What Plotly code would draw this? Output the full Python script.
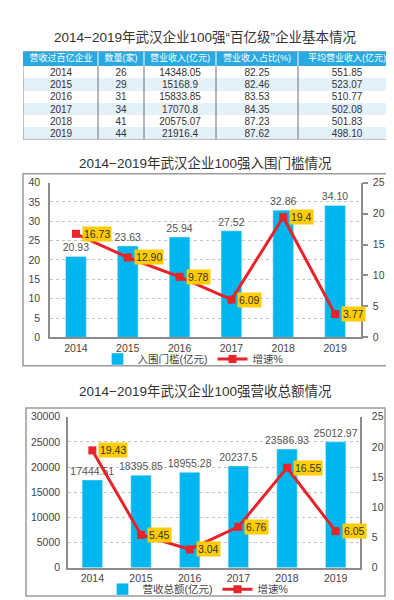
import plotly.graph_objects as go

W, H = 394, 600

# ---------------- data ----------------
tbl_header = ["营收过百亿企业", "数量(家)", "营业收入(亿元)", "营业收入占比(%)", "平均营业收入(亿元)"]
tbl_years = ["2014", "2015", "2016", "2017", "2018", "2019"]
tbl_count = ["26", "29", "31", "34", "41", "44"]
tbl_revenue = ["14348.05", "15168.9", "15833.85", "17070.8", "20575.07", "21916.4"]
tbl_share = ["82.25", "82.46", "83.53", "84.35", "87.23", "87.62"]
tbl_avg = ["551.85", "523.07", "510.77", "502.08", "501.83", "498.10"]

years = ["2014", "2015", "2016", "2017", "2018", "2019"]
threshold = [20.93, 23.63, 25.94, 27.52, 32.86, 34.10]
threshold_labels = ["20.93", "23.63", "25.94", "27.52", "32.86", "34.10"]
threshold_growth = [16.73, 12.90, 9.78, 6.09, 19.4, 3.77]
threshold_growth_labels = ["16.73", "12.90", "9.78", "6.09", "19.4", "3.77"]

revenue = [17444.51, 18395.85, 18955.28, 20237.5, 23586.93, 25012.97]
revenue_labels = ["17444.51", "18395.85", "18955.28", "20237.5", "23586.93", "25012.97"]
revenue_growth = [19.43, 5.45, 3.04, 6.76, 16.55, 6.05]
revenue_growth_labels = ["19.43", "5.45", "3.04", "6.76", "16.55", "6.05"]

titles = ["2014−2019年武汉企业100强“百亿级”企业基本情况",
          "2014−2019年武汉企业100强入围门槛情况",
          "2014−2019年武汉企业100强营收总额情况"]

# ---------------- style ----------------
FONT = "Liberation Sans, Noto Sans CJK SC, sans-serif"
BLUE = "#00b6ee"
RED = "#e8232a"
YELLOW = "#ffcc00"
TXT = "#444444"
FRAME = "#9a9a9a"
AXIS = "#8c8c8c"
HEAD_BLUE = "#29a9e1"
ROW_BLUE = "#e3f1fb"


def px(x):
    return x / W


def py(y):
    return 1 - y / H


fig = go.Figure()

# ---------------- table (drawn as heatmap bricks with text) ----------------
TBL_L, TBL_R, TBL_TOP = 15, 387, 38
col_widths = [75, 46, 72, 82, 97]
HEAD_H, ROW_H = 15, 12.5
col_edges = [0]
for w in col_widths:
    col_edges.append(col_edges[-1] + w)
n_rows = len(tbl_years)
row_edges = [HEAD_H + ROW_H * k for k in range(n_rows + 1)]
tbl_h = row_edges[-1]

tbl_cols = [tbl_years, tbl_count, tbl_revenue, tbl_share, tbl_avg]
body_text = [[col[r] for col in tbl_cols] for r in range(n_rows)]
body_z = [[r % 2] * len(tbl_cols) for r in range(n_rows)]

fig.add_trace(go.Heatmap(
    x=col_edges, y=[0, HEAD_H], z=[[1] * len(tbl_header)], text=[tbl_header],
    texttemplate="%{text}", textfont=dict(family=FONT, size=9, color="white"),
    colorscale=[[0, HEAD_BLUE], [1, HEAD_BLUE]], showscale=False,
    hoverinfo="skip", xaxis="x3", yaxis="y5",
))
fig.add_trace(go.Heatmap(
    x=col_edges, y=row_edges, z=body_z, text=body_text, zmin=0, zmax=1,
    texttemplate="%{text}", textfont=dict(family=FONT, size=10, color="#333333"),
    colorscale=[[0, "#ffffff"], [1, ROW_BLUE]], showscale=False,
    hoverinfo="skip", xaxis="x3", yaxis="y5",
))

# ---------------- chart 1 ----------------
fig.add_trace(go.Bar(
    x=years, y=threshold, xaxis="x", yaxis="y", name="入围门槛(亿元)",
    marker=dict(color=BLUE), width=0.4,
    text=threshold_labels, textposition="outside", constraintext="none",
    cliponaxis=False, textfont=dict(family=FONT, size=10.5, color="#555555"),
    legend="legend",
))
fig.add_trace(go.Scatter(
    x=years, y=threshold_growth, xaxis="x", yaxis="y2", name="增速%",
    mode="lines+markers", line=dict(color=RED, width=3),
    marker=dict(symbol="square", size=8, color=RED), cliponaxis=False,
    legend="legend",
))

# ---------------- chart 2 ----------------
fig.add_trace(go.Bar(
    x=years, y=revenue, xaxis="x2", yaxis="y3", name="营收总额(亿元)",
    marker=dict(color=BLUE), width=0.42,
    text=revenue_labels, textposition="outside", constraintext="none",
    cliponaxis=False, textfont=dict(family=FONT, size=10.5, color="#555555"),
    legend="legend2",
))
fig.add_trace(go.Scatter(
    x=years, y=revenue_growth, xaxis="x2", yaxis="y4", name="增速%",
    mode="lines+markers", line=dict(color=RED, width=3),
    marker=dict(symbol="square", size=8, color=RED), cliponaxis=False,
    legend="legend2",
))

annotations = []
for t, y in zip(titles, [23, 152, 385]):
    annotations.append(dict(x=0.5, y=py(y), xref="paper", yref="paper", text=t,
                            showarrow=False, xanchor="center", yanchor="middle",
                            font=dict(family=FONT, size=13.5, color="#333333")))
for i, (yv, lab) in enumerate(zip(threshold_growth, threshold_growth_labels)):
    annotations.append(dict(x=i, y=yv, xref="x", yref="y2", text=lab, showarrow=False,
                            xanchor="left", yanchor="middle", xshift=6,
                            bgcolor=YELLOW, borderpad=1,
                            font=dict(family=FONT, size=10.5, color="#333333")))
for i, (yv, lab) in enumerate(zip(revenue_growth, revenue_growth_labels)):
    annotations.append(dict(x=i, y=yv, xref="x2", yref="y4", text=lab, showarrow=False,
                            xanchor="left", yanchor="middle", xshift=6,
                            bgcolor=YELLOW, borderpad=1,
                            font=dict(family=FONT, size=10.5, color="#333333")))

shapes = [
    # frames around charts
    dict(type="rect", xref="paper", yref="paper", x0=px(15), x1=px(380),
         y0=py(359), y1=py(163), line=dict(color=FRAME, width=1.5)),
    dict(type="rect", xref="paper", yref="paper", x0=px(18), x1=px(377),
         y0=py(594), y1=py(402), line=dict(color=FRAME, width=1.5)),
]
# table column separators (white in header, grey in body) and border
for xe in col_edges[1:-1]:
    shapes.append(dict(type="line", xref="x3", yref="y5", x0=xe, x1=xe, y0=0, y1=HEAD_H,
                       line=dict(color="white", width=1), layer="above"))
    shapes.append(dict(type="line", xref="x3", yref="y5", x0=xe, x1=xe, y0=HEAD_H,
                       y1=tbl_h, line=dict(color="#6e6e6e", width=1), layer="above"))
shapes.append(dict(type="rect", xref="x3", yref="y5", x0=0, x1=col_edges[-1], y0=0,
                   y1=tbl_h, line=dict(color="#8a8a8a", width=1), layer="above"))

tickfont = dict(family=FONT, size=10.5, color=TXT)

fig.update_layout(
    width=W, height=H, margin=dict(l=0, r=0, t=0, b=0),
    paper_bgcolor="white", plot_bgcolor="white",
    font=dict(family=FONT, color=TXT),
    showlegend=True,
    annotations=annotations, shapes=shapes,
    xaxis3=dict(domain=[px(TBL_L), px(TBL_R)], anchor="y5", range=[0, col_edges[-1]],
                visible=False, fixedrange=True),
    yaxis5=dict(domain=[py(TBL_TOP + tbl_h), py(TBL_TOP)], anchor="x3",
                range=[tbl_h, 0], visible=False, fixedrange=True),
    xaxis=dict(domain=[px(42), px(353)], anchor="y", type="category",
               range=[-0.5, 5.5], showline=True, linecolor=AXIS, linewidth=1.5,
               ticks="", tickfont=tickfont, showgrid=False, fixedrange=True),
    yaxis=dict(domain=[py(330), py(172)], anchor="x", range=[0, 40], dtick=5,
               showline=True, linecolor=AXIS, linewidth=1.5, ticks="",
               tickfont=tickfont, showgrid=True, gridcolor="#c4c4c4", griddash="dot",
               gridwidth=1, zeroline=False, ticklabelstandoff=6),
    yaxis2=dict(anchor="x", overlaying="y", side="right", range=[0, 25], dtick=5,
                showline=True, linecolor=AXIS, linewidth=1.5, ticks="outside",
                ticklen=5, tickcolor=AXIS, tickwidth=1.5, tickfont=tickfont,
                showgrid=False, zeroline=False, ticklabelstandoff=3),
    xaxis2=dict(domain=[px(60), px(352)], anchor="y3", type="category",
                range=[-0.5, 5.5], showline=True, linecolor=AXIS, linewidth=1.5,
                ticks="", tickfont=tickfont, showgrid=False),
    yaxis3=dict(domain=[py(565), py(411)], anchor="x2", range=[0, 30000], dtick=5000,
                tickformat="d", showline=True, linecolor=AXIS, linewidth=1.5, ticks="",
                tickfont=tickfont, showgrid=True, gridcolor="#c4c4c4", griddash="dot",
                gridwidth=1, zeroline=False, ticklabelstandoff=4),
    yaxis4=dict(anchor="x2", overlaying="y3", side="right", range=[0, 25], dtick=5,
                showline=True, linecolor=AXIS, linewidth=1.5, ticks="",
                tickfont=tickfont, showgrid=False, zeroline=False, ticklabelstandoff=8),
    legend=dict(orientation="h", x=px(185), y=py(352), xanchor="center",
                yanchor="middle", font=dict(family=FONT, size=10.5, color=TXT),
                bgcolor="rgba(0,0,0,0)", itemwidth=30, traceorder="normal"),
    legend2=dict(orientation="h", x=px(190), y=py(587), xanchor="center",
                 yanchor="middle", font=dict(family=FONT, size=10.5, color=TXT),
                 bgcolor="rgba(0,0,0,0)", itemwidth=30, traceorder="normal"),
)

fig.write_html("out.html")
